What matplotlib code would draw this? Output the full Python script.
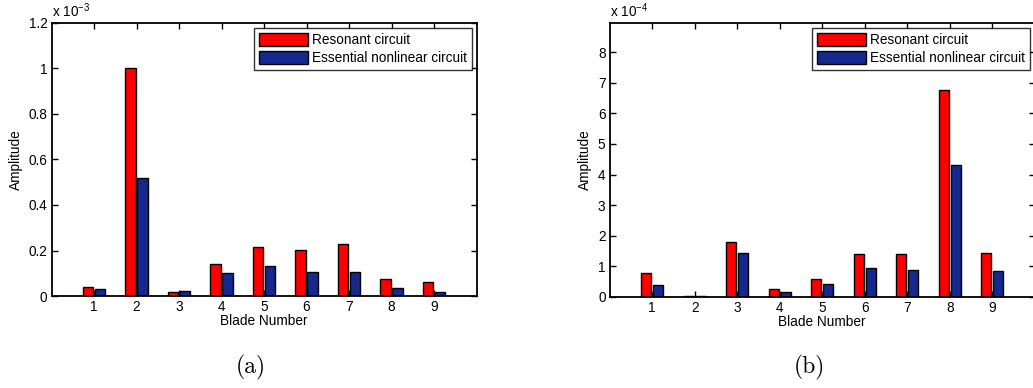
import numpy as np
import matplotlib
matplotlib.use('Agg')
from matplotlib import pyplot as plt

plt.rcParams['font.family'] = ['Liberation Sans', 'DejaVu Sans']
plt.rcParams['mathtext.fontset'] = 'custom'
plt.rcParams['mathtext.rm'] = 'Liberation Sans'
plt.rcParams['mathtext.it'] = 'Liberation Sans:italic'
plt.rcParams['mathtext.default'] = 'regular'

blades = [1, 2, 3, 4, 5, 6, 7, 8, 9]

# panel (a), amplitude x 1e-3
res_a = [0.038, 1.003, 0.017, 0.139, 0.214, 0.203, 0.227, 0.075, 0.060]
ess_a = [0.030, 0.519, 0.022, 0.101, 0.130, 0.106, 0.105, 0.035, 0.017]

# panel (b), amplitude x 1e-4
res_b = [0.78, 0.02, 1.79, 0.25, 0.59, 1.41, 1.41, 6.76, 1.45]
ess_b = [0.39, 0.02, 1.45, 0.17, 0.42, 0.94, 0.87, 4.30, 0.85]

labels = ['Resonant circuit', 'Essential nonlinear circuit']
red = '#ff0000'
blue = '#15288c'

fig = plt.figure(figsize=(10.33, 3.88), dpi=100)
W, H = 1033.0, 388.0
fs = 9.8


def panel(rect, res, ess, ylim, yticks, yticklabels, exp, caption):
    ax = fig.add_axes(rect)
    x = np.array(blades)
    w = 0.24
    ax.bar(x - 0.14, res, w, color=red, edgecolor='black', linewidth=1.0, label=labels[0])
    ax.bar(x + 0.14, ess, w, color=blue, edgecolor='black', linewidth=1.0, label=labels[1])
    ax.set_xlim(0, 10)
    ax.set_ylim(*ylim)
    ax.set_xticks(blades)
    ax.set_yticks(yticks)
    ax.set_yticklabels(yticklabels)
    ax.tick_params(direction='in', top=True, right=True, length=4, width=1,
                   labelsize=fs, colors='black', pad=3)
    for s in ax.spines.values():
        s.set_linewidth(1.3)
    ax.set_xlabel('Blade Number', fontsize=fs, labelpad=0)
    ax.set_ylabel('Amplitude', fontsize=fs, labelpad=4)
    ax.text(0.0, 1.01, r'x 10$^{%d}$' % exp, transform=ax.transAxes,
            fontsize=fs, ha='left', va='bottom')
    leg = ax.legend(loc='upper right', fontsize=fs, frameon=True, fancybox=False,
                    borderaxespad=0.35, handlelength=3.6, handleheight=1.15,
                    borderpad=0.35, labelspacing=0.3, handletextpad=0.3)
    leg.get_frame().set_edgecolor('black')
    leg.get_frame().set_linewidth(1.0)
    cx = rect[0] + rect[2] * 0.47
    fig.text(cx, 1 - 367 / H, caption, fontsize=17, family='cmr10',
             ha='center', va='center')
    return ax


panel([51.5 / W, 1 - 296 / H, 425 / W, 273 / H], res_a, ess_a, (0, 1.2),
      [0, 0.2, 0.4, 0.6, 0.8, 1.0, 1.2], ['0', '0.2', '0.4', '0.6', '0.8', '1', '1.2'],
      -3, '(a)')
panel([609.7 / W, 1 - 297 / H, 425 / W, 274 / H], res_b, ess_b, (0, 8.95),
      [0, 1, 2, 3, 4, 5, 6, 7, 8], ['0', '1', '2', '3', '4', '5', '6', '7', '8'],
      -4, '(b)')

fig.savefig('out.png', dpi=100)
